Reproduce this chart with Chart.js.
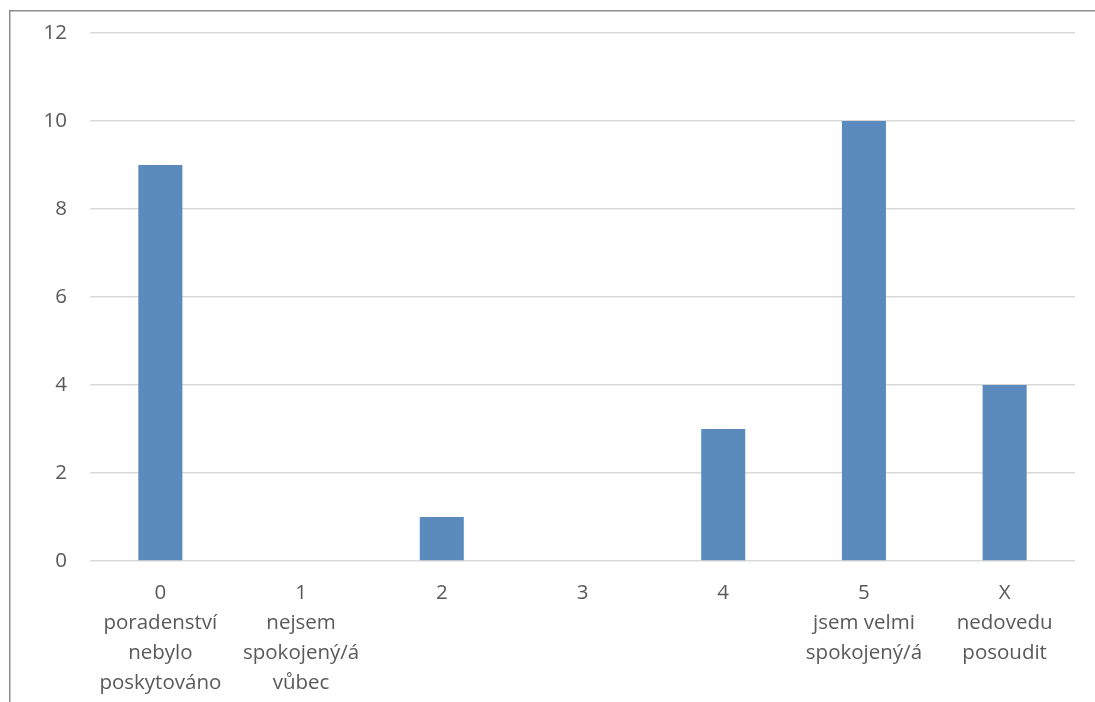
<!DOCTYPE html>
<html><head><meta charset="utf-8">
<script src="https://cdn.jsdelivr.net/npm/chart.js@4/dist/chart.umd.min.js"></script>
<style>html,body{margin:0;padding:0;background:#fff;}#wrap{position:absolute;left:0;top:0;width:1095px;height:702px;}</style>
</head><body><div id="wrap"><canvas id="c" width="1095" height="702"></canvas></div>
<script>
const categories = [["0","poradenství","nebylo","poskytováno"],["1","nejsem","spokojený/á","vůbec"],["2"],["3"],["4"],["5","jsem velmi","spokojený/á"],["X","nedovedu","posoudit"]];
const values = [9,0,1,0,3,10,4];
const yTicks = [0,2,4,6,8,10,12];

const borderPlugin = {id:'border',beforeDraw(chart){const ctx=chart.ctx;ctx.save();ctx.strokeStyle='#8c8c8c';ctx.lineWidth=1.5;ctx.beginPath();ctx.moveTo(9.75,702);ctx.lineTo(9.75,10.75);ctx.lineTo(1095,10.75);ctx.stroke();ctx.restore();}};
const font = {family:"'Open Sans', 'Liberation Sans', sans-serif", size:20.5};
new Chart(document.getElementById('c'),{
  type:'bar',
  data:{labels:categories,datasets:[{data:values,backgroundColor:'#5b8bbd',borderWidth:0,categoryPercentage:1,barPercentage:0.313}]},
  options:{responsive:false,animation:false,
    layout:{padding:{left:0,right:20,top:33,bottom:0}},
    plugins:{legend:{display:false},tooltip:{enabled:false}},
    scales:{
      x:{grid:{display:false,drawTicks:false},border:{display:false},
         ticks:{color:'#595959',font:{...font,lineHeight:1.47},padding:17,maxRotation:0,autoSkip:false},
         afterFit(s){s.height=141;s.paddingLeft=0;s.paddingRight=0;}},
      y:{min:0,max:12,grid:{color:'#d9d9d9',lineWidth:1.5,drawTicks:false},border:{display:false},
         afterBuildTicks(s){s.ticks=yTicks.map(v=>({value:v}));},
         ticks:{color:'#595959',font:font,padding:23},
         afterFit(s){s.width=90;s.paddingTop=0;s.paddingBottom=0;}}
    }},
  plugins:[borderPlugin]
});
</script></body></html>
